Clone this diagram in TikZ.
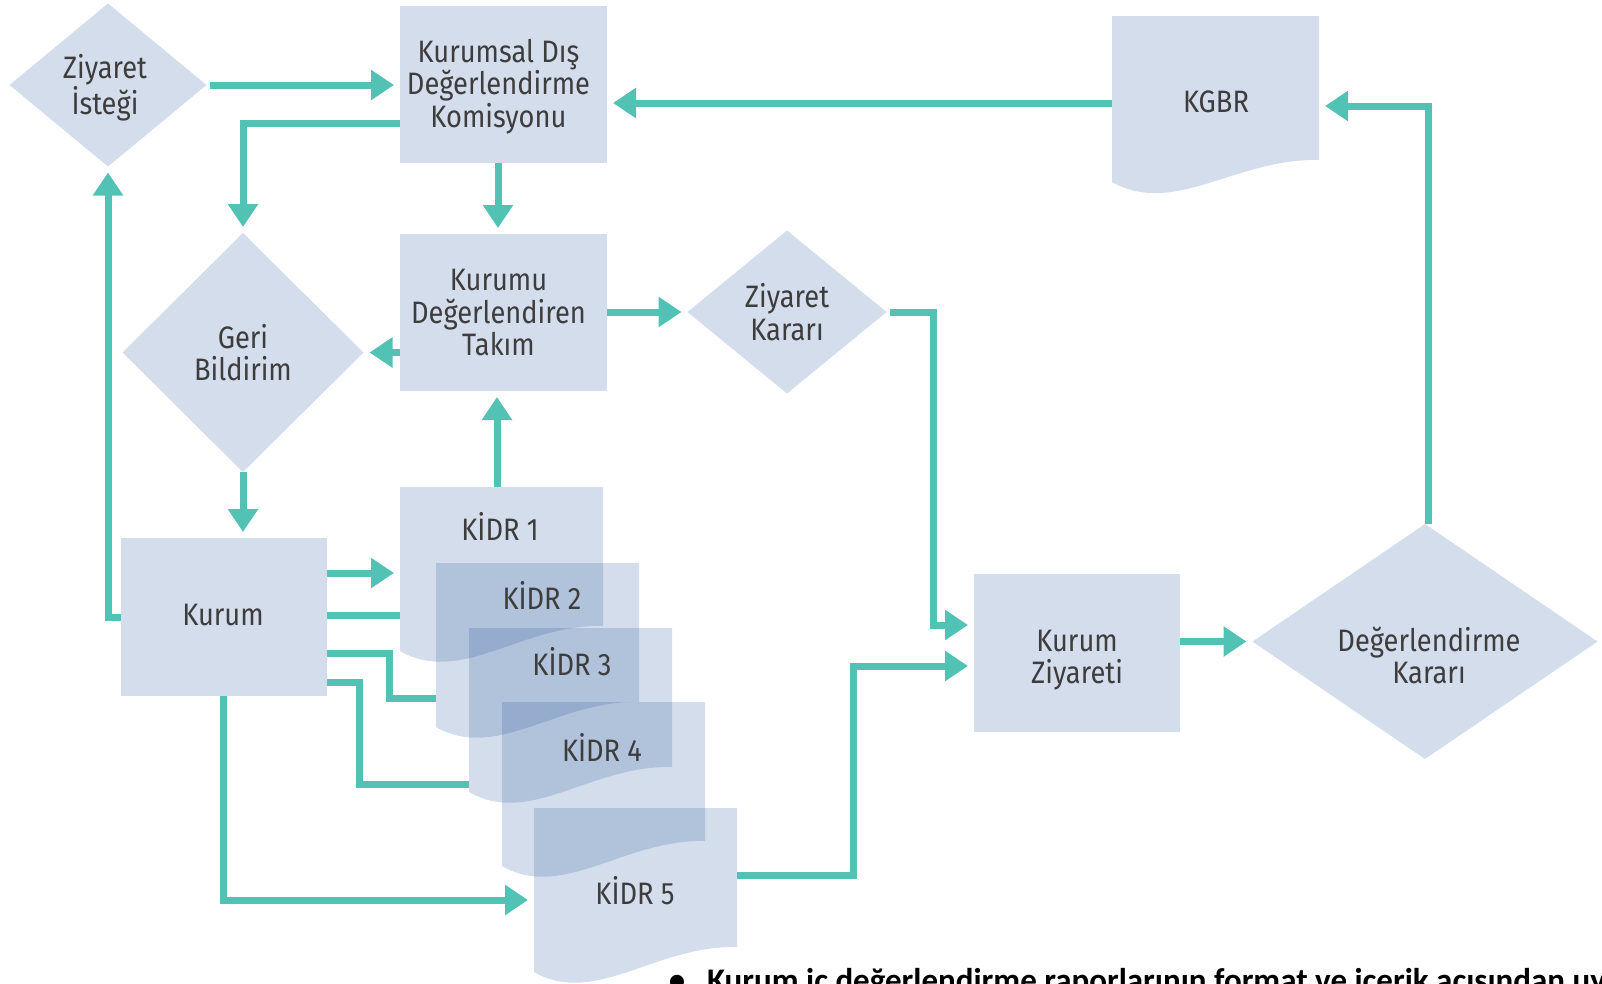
\documentclass[tikz,border=0pt]{standalone}
\usepackage{fontspec}
\setmainfont{Fira Sans}[FakeStretch=0.88]
\newfontfamily\bottomfont{Carlito}
\usetikzlibrary{arrows.meta,shapes.geometric,calc}
\definecolor{boxfill}{HTML}{D3DDEB}
\definecolor{docfill}{RGB}{40,85,155}
\definecolor{conn}{HTML}{52C2B5}
\definecolor{txt}{HTML}{3D3D3D}
% x y w hR hL style
\newcommand{\docshape}[6]{\fill[#6] (#1,#2) -- (#1+#3,#2) -- (#1+#3,#2+#4) .. controls (#1+0.6*#3,#2+#4-2) and (#1+0.3*#3,#2+#5+35) .. (#1,#2+#5) -- cycle;}
\begin{document}
\begin{tikzpicture}[x=1pt,y=-1pt,
  every node/.style={inner sep=0pt, outer sep=0pt, font=\fontsize{31}{32.5}\selectfont, text=txt, align=center},
  boxnode/.style={rectangle, fill=boxfill, minimum width=207pt, minimum height=157pt},
  decision/.style={diamond, fill=boxfill},
  docarea/.style={rectangle, minimum width=203pt, minimum height=164pt, anchor=north west},
  doclayer/.style={fill=docfill, fill opacity=0.2},
  flow/.style={draw=conn, line width=7pt},
  arr/.style={flow, -{Triangle[length=23pt,width=29pt]}, shorten >=6pt},
  bottomtext/.style={font=\bottomfont\bfseries\fontsize{33}{36}\selectfont, text=black},
]
\useasboundingbox (0,0) rectangle (1602,983);

% shapes
\node[decision, minimum width=197pt, minimum height=163pt] (zi) at (108,85) {};
\node (zit) at ($(zi)+(-3,3)$) {Ziyaret\\İsteği};
\node[boxnode] (kddk) at (503.5,84.5) {};
\node (kddkt) at ($(kddk)+(-5,2)$) {Kurumsal Dış\\Değerlendirme\\Komisyonu};
\docshape{1112}{16}{207}{144}{166}{boxfill}
\node[rectangle, minimum width=207pt, minimum height=166pt, anchor=north west] (kgbr) at (1112,16) {};
\node (kgbrt) at (1216,102) {KGBR};
\node[decision, minimum width=241pt, minimum height=239pt] (geri) at (243,352.5) {Geri\\Bildirim};
\node[boxnode] (kdt) at (503.5,312.5) {};
\node (kdtt) at ($(kdt)+(-5,0)$) {Kurumu\\Değerlendiren\\Takım};
\node[decision, minimum width=199pt, minimum height=163pt] (zk) at (787,312) {Ziyaret\\Kararı};
\node[boxnode, minimum width=206pt, minimum height=158pt] (kurum) at (224,617) {};
\node (kurumt) at ($(kurum)+(-1,-2)$) {Kurum};
\node[boxnode, minimum width=206pt, minimum height=158pt] (kz) at (1077,653) {};
\node (kzt) at ($(kz)+(0,7)$) {Kurum\\Ziyareti};
\node[decision, minimum width=345pt, minimum height=235pt] (dk) at (1425,641.5) {};
\node (dkt) at ($(dk)+(4,14)$) {Değerlendirme\\Kararı};

% KIDR documents
\docshape{400}{487}{203}{139}{164}{doclayer}
\node[docarea] (k1) at (400,487) {};
\node (k1t) at (500,526) {KİDR 1};
\docshape{436}{563}{203}{139}{164}{doclayer}
\node[docarea] (k2) at (436,563) {};
\node (k2t) at (542,595) {KİDR 2};
\docshape{469}{628}{203}{139}{164}{doclayer}
\node[docarea] (k3) at (469,628) {};
\node (k3t) at (572,662) {KİDR 3};
\docshape{502}{702}{203}{139}{164}{doclayer}
\node[docarea] (k4) at (502,702) {};
\node (k4t) at (602,747) {KİDR 4};
\docshape{534}{808}{203}{139}{164}{doclayer}
\node[docarea] (k5) at (534,808) {};
\node (k5t) at (635,891) {KİDR 5};

% connectors
\draw[arr, shorten <=3pt] (zi.east) -- (kddk.west |- zi.east);
\draw[arr] (kddk.west |- 0,123) -| (geri.north);
\draw[arr] (kddk.south -| 498,0) -- (kdt.north -| 498,0);
\draw[arr] (kgbr.west |- 0,103) -- (kddk.east |- 0,103);
\draw[arr] (kdt.west |- geri.east) -- (geri.east);
\draw[arr] (kdt.east |- zk.west) -- (zk.west);
\coordinate (g1) at (933,625);
\draw[arr, shorten <=3pt] (zk.east) -| (g1) -- (kz.west |- g1);
\draw[arr] (geri.south) -- (kurum.north -| geri.south);
\draw[arr] (kurum.west) -| (zi.south);
\draw[arr] (k1.north -| 497,0) -- (kdt.south -| 497,0);
\draw[arr] (kurum.east |- 0,573) -- (k1.west |- 0,573);
\draw[flow] (kurum.east |- 0,615) -- (k1.west |- 0,615);
\coordinate (m1) at (389,698);
\draw[flow] (kurum.east |- 0,653) -| (m1) -- (k2.west |- m1);
\coordinate (n1) at (359,784);
\draw[flow] (kurum.east |- 0,682) -| (n1) -- (k3.west |- n1);
\coordinate (o1) at (223,900);
\draw[arr] (kurum.south -| o1) |- (k5.west |- o1);
\coordinate (p1) at (853.6,666);
\draw[arr] (k5.east |- 0,875) -| (p1) -- (kz.west |- p1);
\draw[arr] (kz.east |- dk.west) -- (dk.west);
\coordinate (r1) at (1428,106);
\draw[arr] (dk.north -| r1) -- (r1) -- (kgbr.east |- r1);

% cut-off line of text at the bottom
\begin{scope}
\clip (0,0) rectangle (1602,983);
\node[anchor=base, bottomtext] (bullet) at (677,991) {•};
\node[anchor=base west, bottomtext] (bt) at (707,991) {Kurum iç değerlendirme raporlarının format ve içerik açısından uy};
\end{scope}
\end{tikzpicture}
\end{document}
